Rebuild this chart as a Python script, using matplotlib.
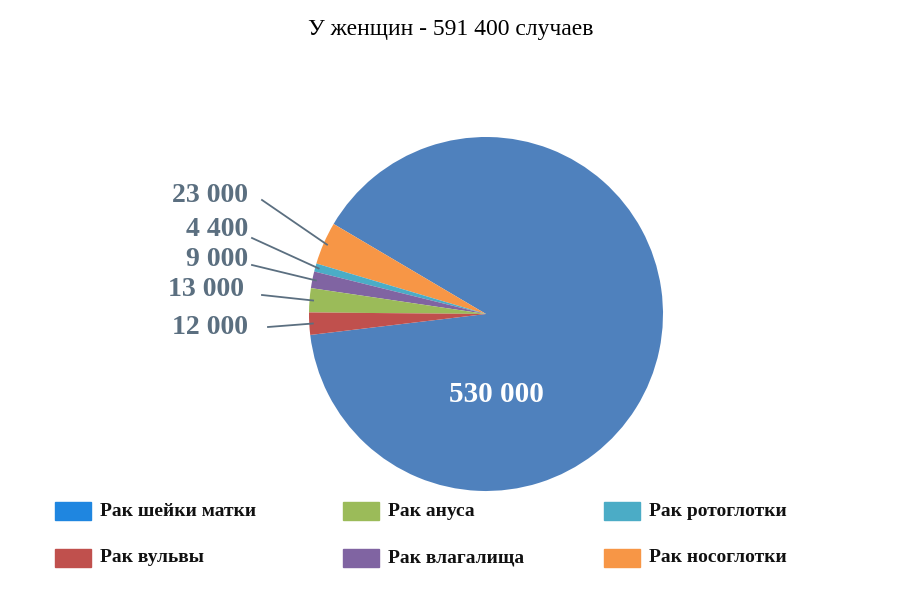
import matplotlib
matplotlib.use('Agg')
import matplotlib.pyplot as plt
import numpy as np

# data
names = ['Рак шейки матки', 'Рак носоглотки', 'Рак ротоглотки',
         'Рак влагалища', 'Рак ануса', 'Рак вульвы']
values = [530000, 23000, 4400, 9000, 13000, 12000]
labels = ['530 000', '23 000', '4 400', '9 000', '13 000', '12 000']
colors = ['#4f81bd', '#f79646', '#4bacc6', '#8064a2', '#9bbb59', '#c0504d']
legend_colors = {'Рак шейки матки': '#1f86e0'}

W, H, DPI = 901, 596, 100
cx, cy, R = 486, 314, 177

fig = plt.figure(figsize=(W / DPI, H / DPI), dpi=DPI)
ax = fig.add_axes([0, 0, 1, 1])
ax.set_xlim((0 - cx) / R, (W - cx) / R)
ax.set_ylim((cy - H) / R, cy / R)
ax.axis('off')

def px(x, y):
    return (x - cx) / R, (cy - y) / R

wedges, _ = ax.pie(values, colors=colors, startangle=186.8, counterclock=True,
                   radius=1.0, center=(0, 0), frame=True)
ax.set_xlim((0 - cx) / R, (W - cx) / R)
ax.set_ylim((cy - H) / R, cy / R)
ax.axis('off')

lab_col = '#5b6f80'
font = dict(family='Liberation Serif', weight='bold')
tx, ty = px(496, 394)
ax.text(tx, ty, labels[0], color='white', fontsize=21, ha='center', va='center', **font)

# small slice labels (text right edge, text centre y, leader start)
text_pos = {1: (248, 196, 262, 200), 2: (248, 229, 252, 238), 3: (248, 260, 252, 265),
            4: (244, 290, 262, 295), 5: (248, 328, 268, 327)}
for i, (rx, ry, lx, ly) in text_pos.items():
    w = wedges[i]
    ang = np.deg2rad((w.theta1 + w.theta2) / 2)
    ex, ey = 0.98 * np.cos(ang), 0.98 * np.sin(ang)
    x0, y0 = px(rx, ry)
    ax.text(x0, y0, labels[i], color=lab_col, fontsize=20, ha='right', va='center', **font)
    sx, sy = px(lx, ly)
    ax.plot([sx, ex], [sy, ey], color=lab_col, lw=1.3)

fig.text(0.5, 1 - 30 / H, 'У женщин - 591 400 случаев', ha='center', va='center',
         fontsize=17, family='Liberation Serif')

# legend (row order as in reference)
leg_order = ['Рак шейки матки', 'Рак ануса', 'Рак ротоглотки',
             'Рак вульвы', 'Рак влагалища', 'Рак носоглотки']
col_x = [55, 343, 604]
row_y = [511, 558]
for k, nm in enumerate(leg_order):
    i = names.index(nm)
    c = legend_colors.get(nm, colors[i])
    x, y = col_x[k % 3], row_y[k // 3]
    x0, y0 = px(x, y + 9)
    x1, _ = px(x + 36, y)
    ax.add_patch(plt.Rectangle((x0, y0), x1 - x0, 18 / R, color=c, clip_on=False))
    tx, ty = px(x + 45, y)
    ax.text(tx, ty, nm, fontsize=14, ha='left', va='center', color='#111111', **font)

fig.savefig('out.png', dpi=DPI, facecolor='white')
